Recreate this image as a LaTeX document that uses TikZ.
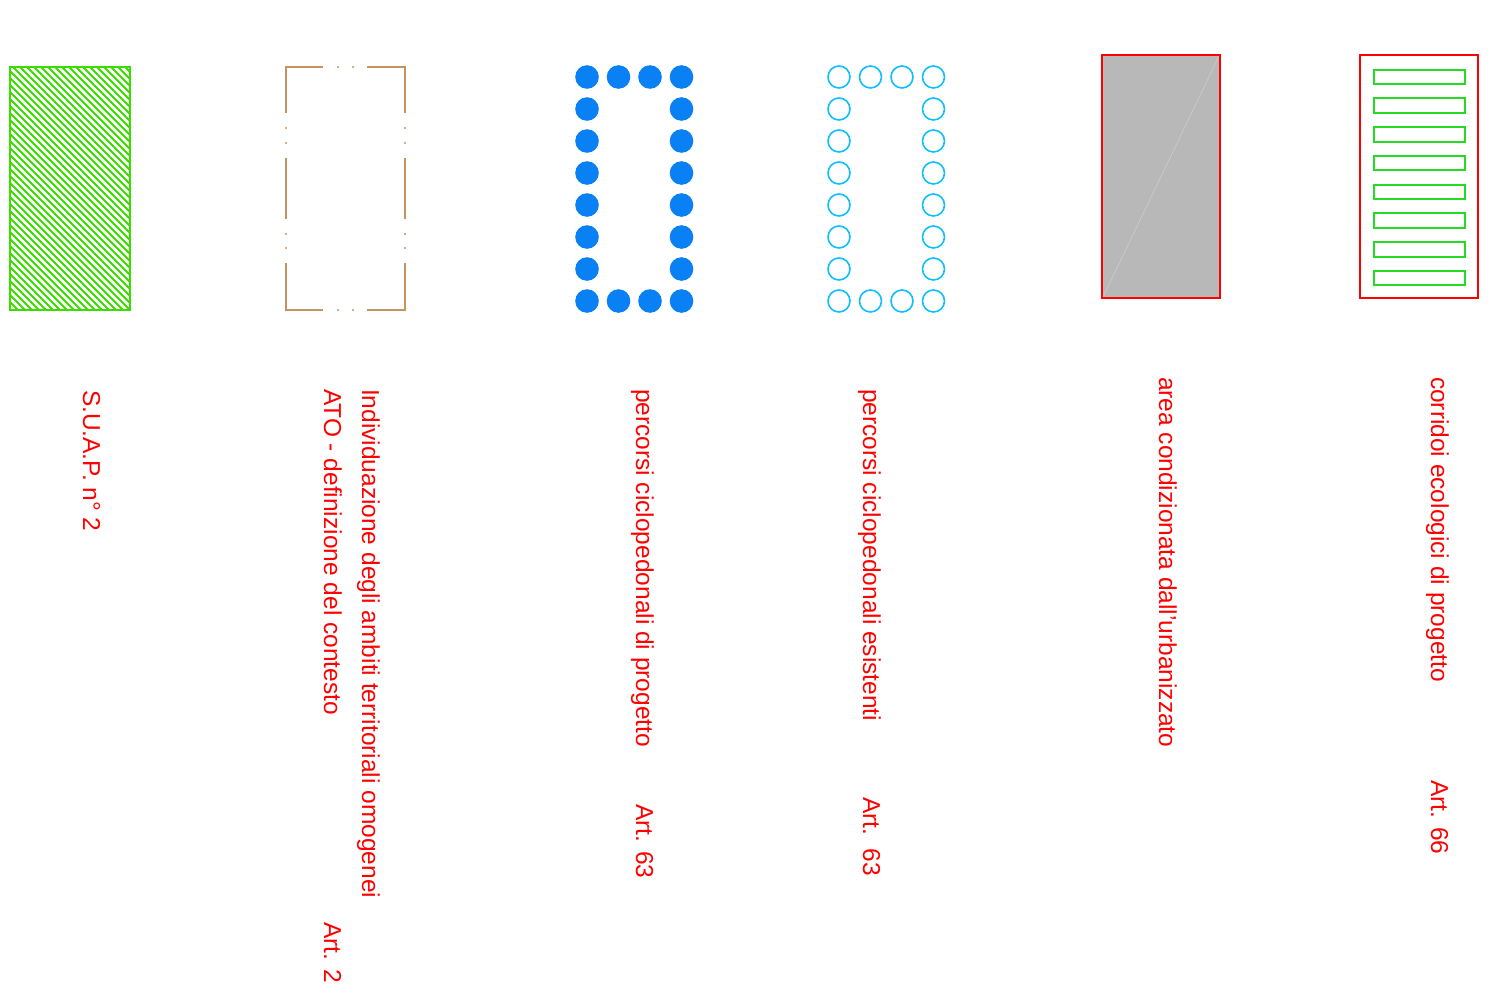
\documentclass[tikz,border=0pt]{standalone}
\usepackage{fontspec}
\setmainfont{Liberation Sans}
\definecolor{legRed}{HTML}{FF0000}
\definecolor{legHatch}{HTML}{3CDC00}
\definecolor{legBrown}{HTML}{C4935F}
\definecolor{legBlue}{HTML}{0A80F5}
\definecolor{legCyan}{HTML}{10BFFF}
\definecolor{legGray}{HTML}{B8B8B8}
\definecolor{legBar}{HTML}{22DD22}
\tikzset{
  legend sheet/.style={
    x=1pt, y=-1pt, line width=2pt,
    every node/.style={font=\fontsize{24.5}{28}\selectfont,
      text=legRed, inner sep=0pt, outer sep=0pt,
      rotate=-90, anchor=base west}
  },
  ato line/.style={draw=legBrown, line width=2pt},
  ato dot/.style={fill=legBrown},
  path dot/.style={fill=legBlue},
  path ring/.style={draw=legCyan, line width=1.6pt},
  eco bar/.style={draw=legBar, line width=2pt}
}

\begin{document}
\begin{tikzpicture}[legend sheet]
    \useasboundingbox (0,0) rectangle (1508,1001);
    % S.U.A.P.
    \begin{scope}
      \clip (10,67) rectangle (130,310);
      \foreach \k in {-260,-253,...,140}
        \draw[legHatch,line width=1.9pt] (\k,60) -- (\k+260,320);
    \end{scope}
    \draw[legHatch] (10,67) rectangle (130,310);
    % ATO
    \draw[ato line] (323,67) -- (286,67) -- (286,113);
    \draw[ato line] (367,67) -- (405,67) -- (405,113);
    \draw[ato line] (323,310) -- (286,310) -- (286,263);
    \draw[ato line] (367,310) -- (405,310) -- (405,263);
    \draw[ato line] (286,158) -- (286,219);
    \draw[ato line] (405,158) -- (405,219);
    \foreach \p in {(338,67),(353,67),(338,310),(353,310),
                    (286,128),(286,143),(286,234),(286,248),
                    (405,128),(405,143),(405,234),(405,248)}
      \fill[ato dot] \p circle[radius=1.1pt];
    % percorsi di progetto / esistenti
    \foreach \y in {77,301}
      \foreach \x in {587,618.5,650,681.5}{
        \fill[path dot] (\x,\y) circle[radius=11.8pt];
        \draw[path ring] (\x+252,\y) circle[radius=11pt];
      }
    \foreach \y in {109,141,...,269}
      \foreach \x in {587,681.5}{
        \fill[path dot] (\x,\y) circle[radius=11.8pt];
        \draw[path ring] (\x+252,\y) circle[radius=11pt];
      }
    % area condizionata
    \fill[legGray] (1102,55) rectangle (1220,298);
    \draw[white!30!legGray,line width=0.6pt] (1103,297) -- (1219,56);
    \draw[legRed] (1102,55) rectangle (1220,298);
    % corridoi ecologici
    \draw[legRed] (1360,55) rectangle (1478,298);
    \foreach \k in {0,...,7}
      \draw[eco bar] (1374,69.5+28.77*\k) rectangle (1465,84+28.77*\k);

    \node (suap) at (83,390) {S.U.A.P. n° 2};
    \node (atoA) at (362,389) {Individuazione degli ambiti territoriali omogenei};
    \node (atoB) at (324,389) {ATO - definizione del contesto};
    \node (atoArt) at (324,922) {Art. 2};
    \node (cicloP) at (636,389) {percorsi ciclopedonali di progetto};
    \node (cicloPArt) at (636,804) {Art. 63};
    \node (cicloE) at (863,389) {percorsi ciclopedonali esistenti};
    \node (cicloEArt) at (863,797) {Art.\ \ 63};
    \node (urban) at (1159,377) {area condizionata dall'urbanizzato};
    \node (eco) at (1431,377) {corridoi ecologici di progetto};
    \node (ecoArt) at (1431,780) {Art. 66};
\end{tikzpicture}
\end{document}
